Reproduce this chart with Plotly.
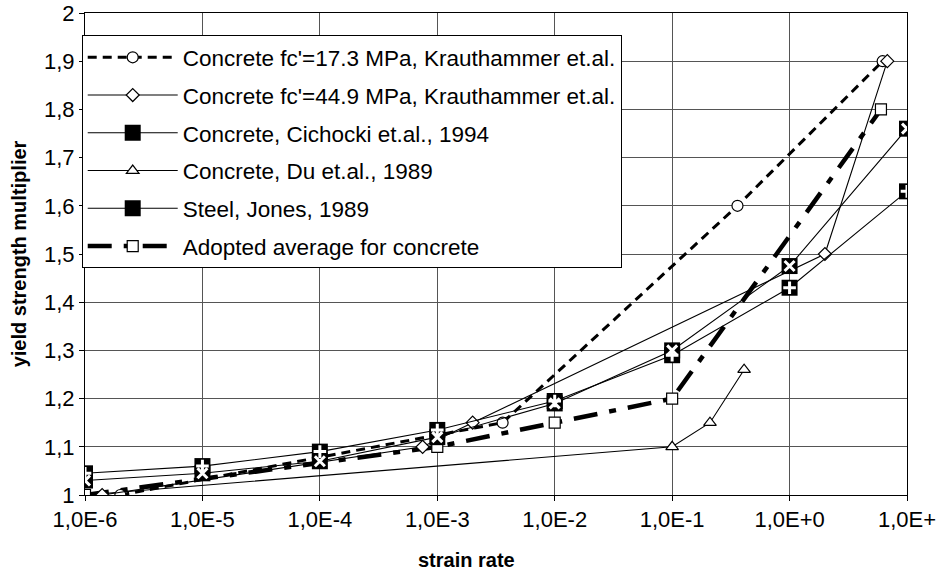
import plotly.graph_objects as go

# ---- data ----
x_c17 = [2e-6, 3.6e-3, 0.36, 6.2]
y_c17 = [1.0, 1.15, 1.6, 1.9]

x_c45 = [1.4e-6, 7.5e-4, 2e-3, 2.0, 6.8]
y_c45 = [1.0, 1.1, 1.15, 1.5, 1.9]

x_cic = [1e-6, 1e-5, 1e-4, 1e-3, 1e-2, 1e-1, 1e0, 1e1]
y_cic = [1.045, 1.06, 1.09, 1.135, 1.195, 1.29, 1.43, 1.63]

x_du = [1e-6, 0.1, 0.21, 0.41]
y_du = [1.0, 1.1, 1.15, 1.26]

x_steel = [1e-6, 1e-5, 1e-4, 1e-3, 1e-2, 1e-1, 1e0, 1e1]
y_steel = [1.03, 1.045, 1.07, 1.12, 1.19, 1.30, 1.475, 1.76]

x_avg = [1e-6, 1e-3, 1e-2, 1e-1, 6.0]
y_avg = [1.0, 1.1, 1.15, 1.2, 1.8]

x_tickvals = [1e-6, 1e-5, 1e-4, 1e-3, 1e-2, 1e-1, 1e0, 1e1]
x_ticktext = ["1,0E-6", "1,0E-5", "1,0E-4", "1,0E-3", "1,0E-2", "1,0E-1", "1,0E+0", "1,0E+"]
y_tickvals = [1.0, 1.1, 1.2, 1.3, 1.4, 1.5, 1.6, 1.7, 1.8, 1.9, 2.0]
y_ticktext = ["1", "1,1", "1,2", "1,3", "1,4", "1,5", "1,6", "1,7", "1,8", "1,9", "2"]

FONT = "Liberation Sans, Arial, sans-serif"

fig = go.Figure()

fig.add_trace(go.Scatter(
    x=x_du, y=y_du, mode="lines+markers", name="Concrete, Du et.al., 1989",
    legendgroup="du", legendrank=4,
    line=dict(color="black", width=1.1),
    marker=dict(symbol="triangle-up", size=11, color="white", line=dict(color="black", width=1.2)),
))
fig.add_trace(go.Scatter(
    x=x_avg, y=y_avg, mode="lines+markers", name="Adopted average for concrete",
    legendgroup="avg", legendrank=6,
    line=dict(color="black", width=4.5, dash="24px,12px,7px,12px"),
    marker=dict(symbol="square", size=11, color="white", line=dict(color="black", width=1.2)),
))
fig.add_trace(go.Scatter(
    x=x_c17, y=y_c17, mode="lines+markers", name="Concrete fc'=17.3 MPa, Krauthammer et.al.",
    legendgroup="c17", legendrank=1,
    line=dict(color="black", width=3, dash="9px,6px"),
    marker=dict(symbol="circle", size=11, color="white", line=dict(color="black", width=1.2)),
))
fig.add_trace(go.Scatter(
    x=x_c45, y=y_c45, mode="lines+markers", name="Concrete fc'=44.9 MPa, Krauthammer et.al.",
    legendgroup="c45", legendrank=2,
    line=dict(color="black", width=1.1),
    marker=dict(symbol="diamond", size=10, color="white", line=dict(color="black", width=1.2)),
))
fig.add_trace(go.Scatter(
    x=x_cic, y=y_cic, mode="lines+markers", name="Concrete, Cichocki et.al., 1994",
    legendgroup="cic", legendrank=3,
    line=dict(color="black", width=1.1),
    marker=dict(symbol="square", size=16, color="black", line=dict(color="black", width=0)),
))
fig.add_trace(go.Scatter(
    x=x_steel, y=y_steel, mode="lines+markers", name="Steel, Jones, 1989",
    legendgroup="steel", legendrank=5,
    line=dict(color="black", width=1.1),
    marker=dict(symbol="square", size=16, color="black", line=dict(color="black", width=0)),
))
# white glyph overlays on the filled squares
fig.add_trace(go.Scatter(
    x=x_cic, y=y_cic, mode="markers", showlegend=False, legendgroup="cic", hoverinfo="skip",
    marker=dict(symbol="cross-thin", size=9, color="white", line=dict(color="white", width=3)),
))
fig.add_trace(go.Scatter(
    x=x_steel, y=y_steel, mode="markers", showlegend=False, legendgroup="steel", hoverinfo="skip",
    marker=dict(symbol="x-thin", size=10, color="white", line=dict(color="white", width=3)),
))

axis_common = dict(
    showline=True, linecolor="black", linewidth=1, mirror=True,
    showgrid=True, gridcolor="#555555", gridwidth=1,
    ticks="outside", ticklen=5, tickcolor="black",
    tickfont=dict(family=FONT, size=22, color="black"),
    zeroline=False, automargin=False,
)

fig.update_xaxes(
    type="log", range=[-6, 1], tickvals=x_tickvals, ticktext=x_ticktext,
    **axis_common,
)
fig.update_yaxes(
    range=[1, 2], tickvals=y_tickvals, ticktext=y_ticktext,
    title=dict(text="<b>yield strength multiplier</b>", font=dict(family=FONT, size=20, color="black"), standoff=12),
    **axis_common,
)

fig.add_annotation(
    text="<b>strain rate</b>", xref="paper", yref="paper",
    x=(466 - 85) / 822, y=-0.135, xanchor="center", yanchor="middle", showarrow=False,
    font=dict(family=FONT, size=20, color="black"),
)

fig.update_layout(
    width=943, height=574,
    margin=dict(l=85, r=36, t=13, b=79),
    paper_bgcolor="white", plot_bgcolor="white",
    font=dict(family=FONT, color="black"),
    showlegend=True,
    legend=dict(
        x=-0.004, y=0.954, xanchor="left", yanchor="top",
        bgcolor="white", bordercolor="black", borderwidth=1,
        font=dict(family=FONT, size=22.5, color="black"),
        tracegroupgap=5.5, itemwidth=90,
        traceorder="grouped",
    ),
)

fig.write_html("out.html", config={"displayModeBar": False},
               post_script="document.body.style.margin='0';")
